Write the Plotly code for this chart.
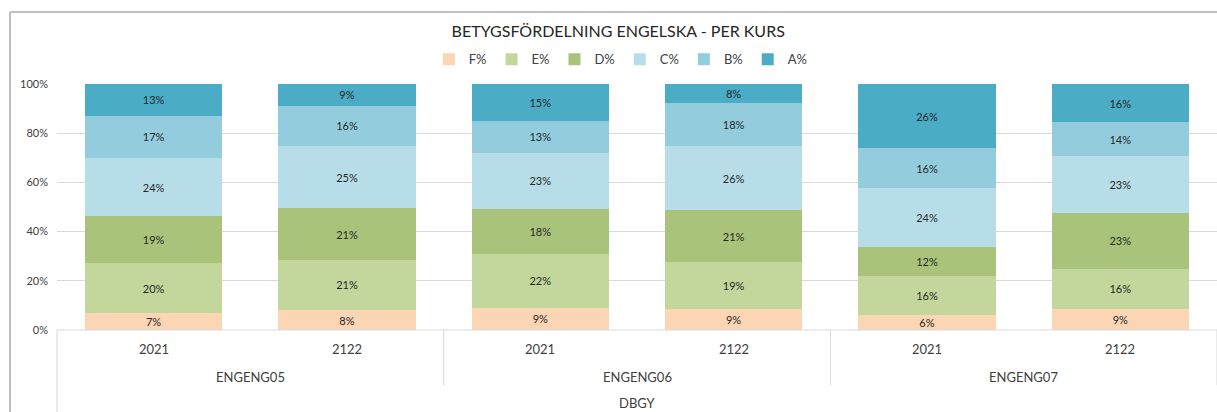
import plotly.graph_objects as go

courses = ["ENGENG05", "ENGENG06", "ENGENG07"]
years = ["2021", "2122"]
school = "DBGY"
grades = ["F%", "E%", "D%", "C%", "B%", "A%"]
colors = ["#FCD5B4", "#C3D69B", "#A9C47A", "#B7DEE8", "#93CDDD", "#4BACC6"]

# values per bar (order: ENGENG05 2021, ENGENG05 2122, ENGENG06 2021, ENGENG06 2122, ENGENG07 2021, ENGENG07 2122)
F = [0.068, 0.080, 0.090, 0.086, 0.061, 0.086]
E = [0.203, 0.206, 0.220, 0.189, 0.157, 0.162]
D = [0.192, 0.208, 0.182, 0.213, 0.120, 0.229]
C = [0.236, 0.254, 0.228, 0.258, 0.238, 0.230]
B = [0.172, 0.163, 0.130, 0.177, 0.163, 0.137]
A = [0.129, 0.089, 0.150, 0.077, 0.261, 0.156]
series = [F, E, D, C, B, A]

keys = [f"{c} {y}" for c in courses for y in years]
yearlabels = [y for c in courses for y in years]

fig = go.Figure()
for name, vals, col in zip(grades, series, colors):
    fig.add_trace(go.Bar(
        x=keys, y=vals, name=name, marker=dict(color=col, line=dict(width=0)),
        texttemplate="%{y:.0%}", textposition="inside", insidetextanchor="middle",
        constraintext="none",
        textfont=dict(family="Lato", size=11, color="#262626"),
        cliponaxis=False,
    ))

axis_font = dict(family="Lato", size=13, color="#404040")
annotations = []
for i, yl in enumerate(yearlabels):
    annotations.append(dict(x=i, y=-0.077, xref="x", yref="paper", text=yl,
                            showarrow=False, yanchor="middle", font=axis_font))
for j, c in enumerate(courses):
    annotations.append(dict(x=2 * j + 0.5, y=-0.191, xref="x", yref="paper", text=c,
                            showarrow=False, yanchor="middle", font=axis_font))
annotations.append(dict(x=2.5, y=-0.297, xref="x", yref="paper", text=school,
                        showarrow=False, yanchor="middle", font=axis_font))

line = dict(color="#D9D9D9", width=1)
shapes = [
    dict(type="line", xref="paper", yref="paper", x0=0, x1=1, y0=0, y1=0, line=line),
    dict(type="line", xref="paper", yref="paper", x0=0, x1=0, y0=0, y1=-0.4, line=line),
    dict(type="line", xref="x", yref="paper", x0=1.5, x1=1.5, y0=0, y1=-0.225, line=line),
    dict(type="line", xref="x", yref="paper", x0=3.5, x1=3.5, y0=0, y1=-0.225, line=line),
    dict(type="line", xref="x", yref="paper", x0=5.5, x1=5.5, y0=0, y1=-0.225, line=line),
    # outer chart frame
    dict(type="line", xref="paper", yref="paper", x0=-0.0405, x1=-0.0405, y0=-0.4, y1=1.2927,
         line=dict(color="#BFBFBF", width=2)),
    dict(type="line", xref="paper", yref="paper", x0=-0.0405, x1=1.0, y0=1.2927, y1=1.2927,
         line=dict(color="#BFBFBF", width=2)),
]

fig.update_layout(
    width=1217, height=412,
    margin=dict(l=57, r=0, t=84, b=82, autoexpand=False),
    barmode="stack", bargap=0.29,
    paper_bgcolor="white", plot_bgcolor="white",
    title=dict(text="BETYGSFÖRDELNING ENGELSKA - PER KURS", x=0.508, xref="container",
               y=1 - 31 / 412, yref="container", xanchor="center", yanchor="middle",
               font=dict(family="Lato", size=16, color="#262626")),
    legend=dict(orientation="h", x=0.486, xanchor="center", y=1.10, yanchor="middle",
                traceorder="normal", font=dict(family="Lato", size=13, color="#404040"),
                itemwidth=30, bgcolor="rgba(0,0,0,0)"),
    xaxis=dict(type="category", showticklabels=False, showgrid=False, zeroline=False,
               showline=False, ticks="", range=[-0.5, 5.5]),
    yaxis=dict(range=[0, 1], tickvals=[0, 0.2, 0.4, 0.6, 0.8, 1.0], tickformat=".0%",
               showgrid=True, gridcolor="#D9D9D9", gridwidth=1, zeroline=False,
               showline=False, ticks="", tickfont=dict(family="Lato", size=11, color="#404040"),
               ticklabelstandoff=8),
    annotations=annotations, shapes=shapes,
)

fig.write_html("out.html", config={"displayModeBar": False},
               post_script="document.body.style.margin='0';")
